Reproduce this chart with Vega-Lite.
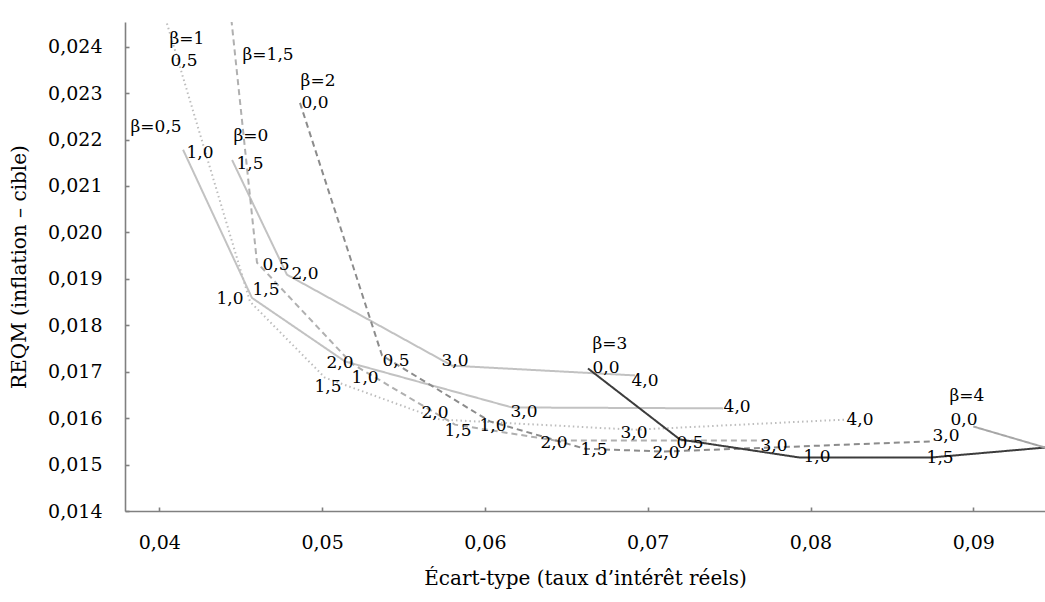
{
  "$schema": "https://vega.github.io/schema/vega-lite/v6.json",
  "autosize": {"type": "none"},
  "width": 920,
  "height": 489,
  "padding": {"left": 125, "top": 22, "right": 0, "bottom": 91},
  "background": "white",
  "config": {
    "view": {"stroke": null},
    "font": "DejaVu Serif",
    "axis": {
      "labelFont": "DejaVu Serif",
      "titleFont": "DejaVu Serif",
      "labelFontSize": 19,
      "titleFontSize": 20,
      "titleFontWeight": "normal",
      "labelColor": "#000000",
      "titleColor": "#000000",
      "domainColor": "#808080",
      "domainWidth": 1.6,
      "tickColor": "#808080",
      "tickWidth": 1.6,
      "tickSize": -4,
      "grid": false
    }
  },
  "datasets": {
    "curves": [
      {"beta": "0", "alpha": 1.5, "ecart": 0.04447, "reqm": 0.02156},
      {"beta": "0", "alpha": 2.0, "ecart": 0.04784, "reqm": 0.01909},
      {"beta": "0", "alpha": 3.0, "ecart": 0.05798, "reqm": 0.01713},
      {"beta": "0", "alpha": 4.0, "ecart": 0.06922, "reqm": 0.01692},
      {"beta": "0,5", "alpha": 1.0, "ecart": 0.04146, "reqm": 0.02178},
      {"beta": "0,5", "alpha": 1.5, "ecart": 0.04569, "reqm": 0.01859},
      {"beta": "0,5", "alpha": 2.0, "ecart": 0.05141, "reqm": 0.01722},
      {"beta": "0,5", "alpha": 3.0, "ecart": 0.06166, "reqm": 0.01623},
      {"beta": "0,5", "alpha": 4.0, "ecart": 0.07463, "reqm": 0.01621},
      {"beta": "1", "alpha": 0.5, "ecart": 0.04047, "reqm": 0.02450},
      {"beta": "1", "alpha": 1.0, "ecart": 0.04557, "reqm": 0.01851},
      {"beta": "1", "alpha": 1.5, "ecart": 0.05018, "reqm": 0.01687},
      {"beta": "1", "alpha": 2.0, "ecart": 0.05724, "reqm": 0.01597},
      {"beta": "1", "alpha": 3.0, "ecart": 0.06922, "reqm": 0.01575},
      {"beta": "1", "alpha": 4.0, "ecart": 0.08224, "reqm": 0.01597},
      {"beta": "1,5", "alpha": 0.0, "ecart": 0.04404, "reqm": 0.02587},
      {"beta": "1,5", "alpha": 0.5, "ecart": 0.04600, "reqm": 0.01935},
      {"beta": "1,5", "alpha": 1.0, "ecart": 0.05184, "reqm": 0.01717},
      {"beta": "1,5", "alpha": 1.5, "ecart": 0.05816, "reqm": 0.01586},
      {"beta": "1,5", "alpha": 2.0, "ecart": 0.06431, "reqm": 0.01552},
      {"beta": "1,5", "alpha": 3.0, "ecart": 0.07720, "reqm": 0.01552},
      {"beta": "2", "alpha": 0.0, "ecart": 0.04864, "reqm": 0.02279},
      {"beta": "2", "alpha": 0.5, "ecart": 0.05368, "reqm": 0.01735},
      {"beta": "2", "alpha": 1.0, "ecart": 0.06031, "reqm": 0.01593},
      {"beta": "2", "alpha": 1.5, "ecart": 0.06615, "reqm": 0.01534},
      {"beta": "2", "alpha": 2.0, "ecart": 0.07106, "reqm": 0.01528},
      {"beta": "2", "alpha": 3.0, "ecart": 0.08746, "reqm": 0.01550},
      {"beta": "3", "alpha": 0.0, "ecart": 0.06633, "reqm": 0.01707},
      {"beta": "3", "alpha": 0.5, "ecart": 0.07198, "reqm": 0.01554},
      {"beta": "3", "alpha": 1.0, "ecart": 0.07936, "reqm": 0.01515},
      {"beta": "3", "alpha": 1.5, "ecart": 0.08734, "reqm": 0.01515},
      {"beta": "3", "alpha": 2.0, "ecart": 0.09778, "reqm": 0.01547},
      {"beta": "4", "alpha": 0.0, "ecart": 0.09000, "reqm": 0.01582},
      {"beta": "4", "alpha": 0.5, "ecart": 0.09778, "reqm": 0.01502}
    ],
    "labels": [
      {"text": "β=1", "ecart": 0.04170, "reqm": 0.02417},
      {"text": "0,5", "ecart": 0.04152, "reqm": 0.02369},
      {"text": "β=1,5", "ecart": 0.04668, "reqm": 0.02382},
      {"text": "β=2", "ecart": 0.04975, "reqm": 0.02326},
      {"text": "0,0", "ecart": 0.04956, "reqm": 0.02279},
      {"text": "β=0,5", "ecart": 0.03980, "reqm": 0.02227},
      {"text": "1,0", "ecart": 0.04250, "reqm": 0.02171},
      {"text": "β=0", "ecart": 0.04563, "reqm": 0.02208},
      {"text": "1,5", "ecart": 0.04557, "reqm": 0.02148},
      {"text": "0,5", "ecart": 0.04717, "reqm": 0.01930},
      {"text": "2,0", "ecart": 0.04895, "reqm": 0.01911},
      {"text": "1,0", "ecart": 0.04434, "reqm": 0.01857},
      {"text": "1,5", "ecart": 0.04655, "reqm": 0.01877},
      {"text": "2,0", "ecart": 0.05110, "reqm": 0.01719},
      {"text": "1,5", "ecart": 0.05036, "reqm": 0.01668},
      {"text": "1,0", "ecart": 0.05264, "reqm": 0.01687},
      {"text": "0,5", "ecart": 0.05454, "reqm": 0.01722},
      {"text": "3,0", "ecart": 0.05816, "reqm": 0.01724},
      {"text": "2,0", "ecart": 0.05693, "reqm": 0.01610},
      {"text": "1,5", "ecart": 0.05835, "reqm": 0.01573},
      {"text": "1,0", "ecart": 0.06050, "reqm": 0.01584},
      {"text": "3,0", "ecart": 0.06240, "reqm": 0.01614},
      {"text": "2,0", "ecart": 0.06424, "reqm": 0.01547},
      {"text": "1,5", "ecart": 0.06670, "reqm": 0.01532},
      {"text": "3,0", "ecart": 0.06916, "reqm": 0.01567},
      {"text": "2,0", "ecart": 0.07112, "reqm": 0.01524},
      {"text": "0,5", "ecart": 0.07260, "reqm": 0.01547},
      {"text": "β=3", "ecart": 0.06768, "reqm": 0.01760},
      {"text": "0,0", "ecart": 0.06744, "reqm": 0.01709},
      {"text": "4,0", "ecart": 0.06983, "reqm": 0.01681},
      {"text": "4,0", "ecart": 0.07549, "reqm": 0.01623},
      {"text": "3,0", "ecart": 0.07776, "reqm": 0.01541},
      {"text": "1,0", "ecart": 0.08040, "reqm": 0.01517},
      {"text": "4,0", "ecart": 0.08304, "reqm": 0.01595},
      {"text": "3,0", "ecart": 0.08832, "reqm": 0.01562},
      {"text": "1,5", "ecart": 0.08796, "reqm": 0.01515},
      {"text": "β=4", "ecart": 0.08961, "reqm": 0.01648},
      {"text": "0,0", "ecart": 0.08943, "reqm": 0.01597}
    ]
  },
  "layer": [
    {
      "data": {"name": "curves"},
      "mark": {"type": "line", "clip": true, "strokeCap": "butt"},
      "encoding": {
        "x": {
          "field": "ecart",
          "type": "quantitative",
          "scale": {"domain": [0.037893, 0.094404], "nice": false, "zero": false},
          "axis": {
            "title": "Écart-type (taux d’intérêt réels)",
            "values": [0.04, 0.05, 0.06, 0.07, 0.08, 0.09],
            "labelExpr": "replace(format(datum.value, '.2f'), '.', ',')",
            "labelPadding": 26,
            "titlePadding": 16
          }
        },
        "y": {
          "field": "reqm",
          "type": "quantitative",
          "scale": {"domain": [0.014, 0.024531], "nice": false, "zero": false},
          "axis": {
            "title": "REQM (inflation – cible)",
            "values": [0.014, 0.015, 0.016, 0.017, 0.018, 0.019, 0.02, 0.021, 0.022, 0.023, 0.024],
            "labelExpr": "replace(format(datum.value, '.3f'), '.', ',')",
            "labelPadding": 27,
            "titlePadding": 18
          }
        },
        "order": {"field": "alpha", "type": "quantitative"},
        "color": {
          "field": "beta",
          "type": "nominal",
          "scale": {
            "domain": ["0", "0,5", "1", "1,5", "2", "3", "4"],
            "range": ["#c2c2c2", "#c2c2c2", "#bdbdbd", "#b0b0b0", "#8c8c8c", "#3c3c3c", "#a6a6a6"]
          },
          "legend": null
        },
        "strokeDash": {
          "field": "beta",
          "type": "nominal",
          "scale": {
            "domain": ["0", "0,5", "1", "1,5", "2", "3", "4"],
            "range": [[1, 0], [1, 0], [1.5, 3], [6, 4], [6, 4], [1, 0], [1, 0]]
          },
          "legend": null
        },
        "strokeWidth": {
          "field": "beta",
          "type": "nominal",
          "scale": {
            "domain": ["0", "0,5", "1", "1,5", "2", "3", "4"],
            "range": [2, 2, 2, 2, 2.2, 2.6, 2]
          },
          "legend": null
        }
      }
    },
    {
      "data": {"name": "labels"},
      "mark": {
        "type": "text",
        "font": "DejaVu Serif",
        "fontSize": 17,
        "align": "center",
        "baseline": "middle",
        "color": "#000000"
      },
      "encoding": {
        "x": {"field": "ecart", "type": "quantitative"},
        "y": {"field": "reqm", "type": "quantitative"},
        "text": {"field": "text", "type": "nominal"}
      }
    }
  ]
}
